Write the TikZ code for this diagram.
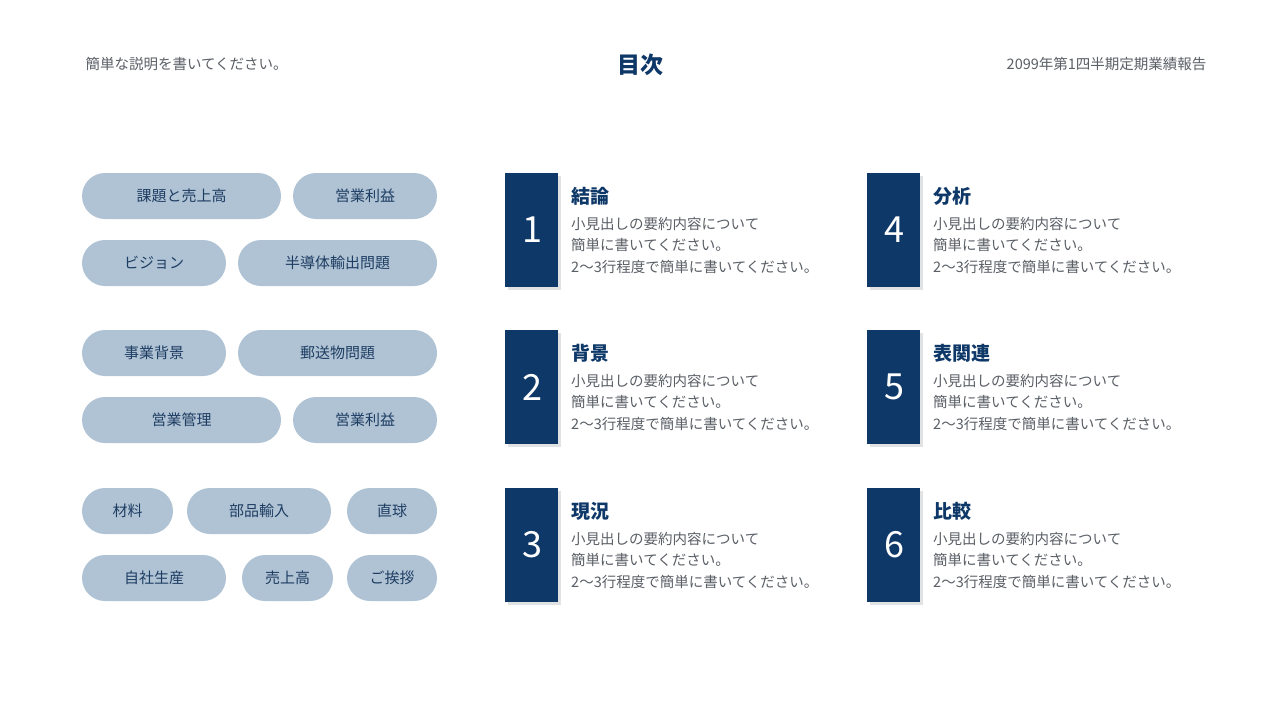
\documentclass[tikz,border=0pt]{standalone}
\usepackage{fontspec}
\setmainfont{Noto Sans CJK JP}
\usetikzlibrary{shadows}
\definecolor{navy}{HTML}{0E3868}
\definecolor{pill}{HTML}{B0C3D4}
\definecolor{pilltxt}{HTML}{1E3D63}
\definecolor{gray}{HTML}{5A5F66}
\tikzset{
 pillbox/.style={fill=pill,rounded corners=23pt,inner sep=0pt},
 numbox/.style={fill=navy,inner sep=0pt,drop shadow={shadow xshift=3pt,shadow yshift=-3pt,opacity=0.25,fill=gray}},
 numtxt/.style={text=white,font=\fontsize{36}{36}\selectfont\addfontfeatures{Weight=Light}},
 ttl/.style={anchor=west,text=navy,font=\fontsize{19}{19}\selectfont\bfseries,inner sep=0pt},
 body/.style={anchor=north west,text=gray,font=\fontsize{14.5}{21.5}\selectfont,align=left,inner sep=0pt},
 ptxt/.style={text=pilltxt,font=\fontsize{15}{15}\selectfont}
}
\begin{document}
\begin{tikzpicture}[x=1pt,y=-1pt]
\path[fill=white] (0,0) rectangle (1280,720);
\node[anchor=west,text=gray,font=\fontsize{14.5}{15}\selectfont] (desc) at (82,64) {簡単な説明を書いてください。};
\node[text=navy,font=\fontsize{23}{23}\selectfont\bfseries] (title) at (640,65) {目次};
\node[anchor=east,text=gray,font=\fontsize{14.5}{15}\selectfont] (rep) at (1210,64) {2099年第1四半期定期業績報告};
% pills
\newcommand\pl[6]{\fill[pill,rounded corners=23pt] (#1,#3) rectangle (#2,#4); \node[ptxt] (#6) at ({(#1+#2)/2},{(#3+#4)/2}) {#5};}
\pl{82}{281}{173}{219}{課題と売上高}{p1}
\pl{293}{437}{173}{219}{営業利益}{p2}
\pl{82}{226}{240}{286}{ビジョン}{p3}
\pl{238}{437}{240}{286}{半導体輸出問題}{p4}
\pl{82}{226}{330}{376}{事業背景}{p5}
\pl{238}{437}{330}{376}{郵送物問題}{p6}
\pl{82}{281}{397}{443}{営業管理}{p7}
\pl{293}{437}{397}{443}{営業利益}{p8}
\pl{82}{173}{488}{534}{材料}{p9}
\pl{187}{331}{488}{534}{部品輸入}{p10}
\pl{347}{437}{488}{534}{直球}{p11}
\pl{82}{226}{555}{601}{自社生産}{p12}
\pl{242}{333}{555}{601}{売上高}{p13}
\pl{347}{437}{555}{601}{ご挨拶}{p14}
% items
\newcommand\itm[5]{%
 \fill[gray,opacity=0.18] (#1+3,#2+3) rectangle (#1+56,#2+117);
 \fill[navy] (#1,#2) rectangle (#1+53,#2+114);
 \node[numtxt] (n#3) at (#1+27,#2+57) {#3};
 \node[ttl] (t#3) at (#1+66,#2+23) {#4};
 \node[body] (b#3) at (#1+66,#2+44) {小見出しの要約内容について\\簡単に書いてください。\\2〜3行程度で簡単に書いてください。};}
\itm{505}{173}{1}{結論}{}
\itm{505}{330}{2}{背景}{}
\itm{505}{488}{3}{現況}{}
\itm{867}{173}{4}{分析}{}
\itm{867}{330}{5}{表関連}{}
\itm{867}{488}{6}{比較}{}
\end{tikzpicture}
\end{document}
